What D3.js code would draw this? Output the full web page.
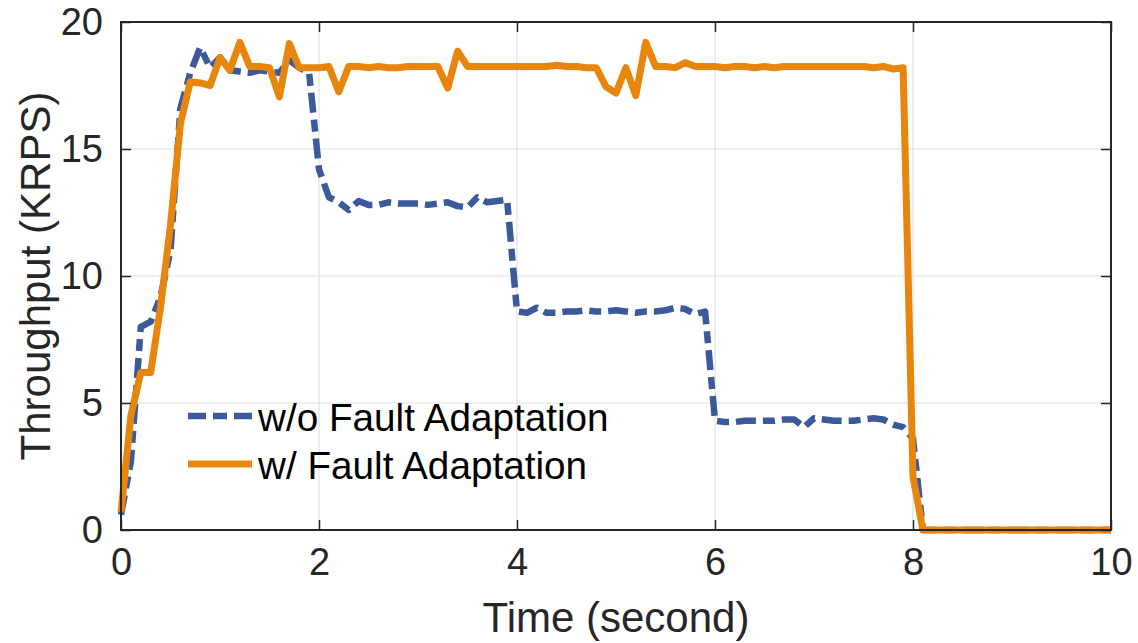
<!DOCTYPE html>
<html>
<head>
<meta charset="utf-8">
<script src="https://cdn.jsdelivr.net/npm/d3@7"></script>
<style>
  html, body { margin: 0; padding: 0; background: #fff; }
  svg { display: block; font-family: "Liberation Sans", Arial, sans-serif; }
</style>
</head>
<body>
<div id="chart"></div>
<script>
// sampled every 0.1 s from 0 to 10 s
const timeStep = 0.1;
const withoutAdaptation = [
  0.6, 2.7, 8.0, 8.2, 9.2, 11.0, 16.6, 18.0, 19.0, 18.2,
  18.6, 18.1, 18.05, 18.0, 18.1, 18.05, 18.0, 18.5, 18.2, 18.0,
  14.2, 13.1, 12.9, 12.6, 12.95, 12.8, 12.8, 12.9, 12.85, 12.85,
  12.85, 12.8, 12.85, 12.9, 12.75, 12.7, 13.1, 12.9, 12.95, 13.0,
  8.6, 8.55, 8.75, 8.55, 8.55, 8.6, 8.6, 8.65, 8.6, 8.6,
  8.65, 8.6, 8.55, 8.6, 8.6, 8.65, 8.75, 8.7, 8.5, 8.6,
  4.3, 4.25, 4.25, 4.3, 4.3, 4.3, 4.3, 4.35, 4.35, 4.05,
  4.4, 4.35, 4.3, 4.3, 4.3, 4.35, 4.4, 4.35, 4.15, 4.05,
  3.6, 0, 0, 0, 0, 0, 0, 0, 0, 0,
  0, 0, 0, 0, 0, 0, 0, 0, 0, 0,
  0
];
const withAdaptation = [
  0.7, 4.5, 6.2, 6.2, 8.8, 12.0, 16.0, 17.65, 17.6, 17.5,
  18.6, 18.1, 19.2, 18.25, 18.25, 18.2, 17.05, 19.15, 18.2, 18.2,
  18.2, 18.25, 17.25, 18.25, 18.25, 18.2, 18.25, 18.2, 18.2, 18.25,
  18.25, 18.25, 18.25, 17.4, 18.85, 18.25, 18.25, 18.25, 18.25, 18.25,
  18.25, 18.25, 18.25, 18.25, 18.3, 18.25, 18.25, 18.2, 18.2, 17.45,
  17.2, 18.2, 17.1, 19.2, 18.25, 18.25, 18.2, 18.4, 18.25, 18.25,
  18.25, 18.2, 18.25, 18.25, 18.2, 18.25, 18.2, 18.25, 18.25, 18.25,
  18.25, 18.25, 18.25, 18.25, 18.25, 18.25, 18.2, 18.25, 18.15, 18.2,
  2.1, 0, 0, 0, 0, 0, 0, 0, 0, 0,
  0, 0, 0, 0, 0, 0, 0, 0, 0, 0,
  0
];
const xTicks = [0, 2, 4, 6, 8, 10];
const yTicks = [0, 5, 10, 15, 20];
const seriesNames = ["w/o Fault Adaptation", "w/ Fault Adaptation"];

const width = 1138, height = 643;
const plot = { left: 121, right: 1111, top: 22, bottom: 530 };
const blue = "#3a5a9b", orange = "#e8850c";
const blueDash = "20,7,12,7";

const svg = d3.select("#chart").append("svg")
  .attr("width", width)
  .attr("height", height);

const x = d3.scaleLinear().domain([0, 10]).range([plot.left, plot.right]);
const y = d3.scaleLinear().domain([0, 20]).range([plot.bottom, plot.top]);

// grid
const grid = svg.append("g").attr("stroke", "#e2e2e2").attr("stroke-width", 1.2);
grid.selectAll(".gx").data(xTicks).join("line")
  .attr("x1", d => x(d)).attr("x2", d => x(d))
  .attr("y1", plot.top).attr("y2", plot.bottom);
grid.selectAll(".gy").data(yTicks).join("line")
  .attr("x1", plot.left).attr("x2", plot.right)
  .attr("y1", d => y(d)).attr("y2", d => y(d));

// lines
const toPoints = arr => arr.map((v, i) => [i * timeStep, v]);
const line = d3.line().x(d => x(d[0])).y(d => y(d[1]));

svg.append("path")
  .datum(toPoints(withoutAdaptation))
  .attr("d", line)
  .attr("fill", "none")
  .attr("stroke", blue)
  .attr("stroke-width", 6.5)
  .attr("stroke-linejoin", "round")
  .attr("stroke-dasharray", blueDash);

svg.append("path")
  .datum(toPoints(withAdaptation))
  .attr("d", line)
  .attr("fill", "none")
  .attr("stroke", orange)
  .attr("stroke-width", 7)
  .attr("stroke-linejoin", "round");

// axes (MATLAB style box with inward ticks)
const tickLen = 10;
function styleAxis(g) {
  g.select(".domain").remove();
  g.selectAll(".tick line").attr("stroke", "#262626").attr("stroke-width", 1.5);
}
svg.append("g")
  .attr("transform", `translate(0,${plot.bottom})`)
  .call(d3.axisBottom(x).tickValues(xTicks).tickSizeInner(-tickLen).tickSizeOuter(0).tickPadding(18))
  .call(styleAxis)
  .call(g => g.selectAll(".tick text").attr("font-size", 38).attr("fill", "#262626")
    .attr("font-family", "Liberation Sans, Arial, sans-serif"));
svg.append("g")
  .attr("transform", `translate(0,${plot.top})`)
  .call(d3.axisTop(x).tickValues(xTicks).tickSizeInner(-tickLen).tickSizeOuter(0).tickFormat(""))
  .call(styleAxis);
svg.append("g")
  .attr("transform", `translate(${plot.left},0)`)
  .call(d3.axisLeft(y).tickValues(yTicks).tickSizeInner(-tickLen).tickSizeOuter(0).tickPadding(18))
  .call(styleAxis)
  .call(g => g.selectAll(".tick text").attr("font-size", 38).attr("fill", "#262626")
    .attr("font-family", "Liberation Sans, Arial, sans-serif"));
svg.append("g")
  .attr("transform", `translate(${plot.right},0)`)
  .call(d3.axisRight(y).tickValues(yTicks).tickSizeInner(-tickLen).tickSizeOuter(0).tickFormat(""))
  .call(styleAxis);

svg.append("rect")
  .attr("x", plot.left).attr("y", plot.top)
  .attr("width", plot.right - plot.left).attr("height", plot.bottom - plot.top)
  .attr("fill", "none").attr("stroke", "#262626").attr("stroke-width", 2);

// axis labels
svg.append("text")
  .attr("x", (plot.left + plot.right) / 2)
  .attr("y", 632)
  .attr("text-anchor", "middle")
  .attr("font-size", 42)
  .attr("fill", "#262626")
  .text("Time (second)");

svg.append("text")
  .attr("transform", `translate(50,${(plot.top + plot.bottom) / 2}) rotate(-90)`)
  .attr("text-anchor", "middle")
  .attr("font-size", 42)
  .attr("fill", "#262626")
  .text("Throughput (KRPS)");

// legend
const legend = svg.append("g").attr("transform", "translate(188,416)");
const legendStyles = [
  { color: blue, dash: "18,7,14,7,18", width: 6.5 },
  { color: orange, dash: null, width: 7 }
];
seriesNames.forEach((name, i) => {
  const row = legend.append("g").attr("transform", `translate(0,${i * 48})`);
  row.append("line")
    .attr("x1", 0).attr("x2", 64).attr("y1", 0).attr("y2", 0)
    .attr("stroke", legendStyles[i].color)
    .attr("stroke-width", legendStyles[i].width)
    .attr("stroke-dasharray", legendStyles[i].dash);
  row.append("text")
    .attr("x", 70).attr("y", 15)
    .attr("font-size", 38.7)
    .attr("fill", "#000")
    .text(name);
});
</script>
</body>
</html>
